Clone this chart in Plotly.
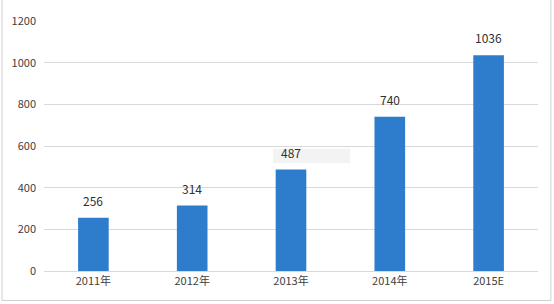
import plotly.graph_objects as go

categories = ["2011年", "2012年", "2013年", "2014年", "2015E"]
values = [256, 314, 487, 740, 1036]
y_ticks = [0, 200, 400, 600, 800, 1000, 1200]

fig = go.Figure()
fig.add_trace(go.Bar(
    x=categories, y=values, width=0.31,
    marker=dict(color="#2E7DCD", line=dict(width=0)),
))

# light grey box behind the 2013 label (as in the source image)
fig.add_shape(type="rect", xref="x", yref="y",
              x0=1.82, x1=2.6, y0=values[2] + 32, y1=values[2] + 100,
              fillcolor="#f3f3f3", line=dict(width=0), layer="below")

for c, v in zip(categories, values):
    fig.add_annotation(x=c, y=v, text=str(v), showarrow=False,
                       yanchor="bottom", yshift=7,
                       font=dict(size=12, color="#303030", family="Noto Sans CJK SC"))

fig.update_layout(
    width=554, height=304,
    margin=dict(l=43, r=16, t=19, b=33),
    paper_bgcolor="white", plot_bgcolor="white",
    showlegend=False,
    font=dict(family="Noto Sans CJK SC", size=11, color="#404040"),
    xaxis=dict(showgrid=False, showline=True, linecolor="#d9d9d9", linewidth=1,
               ticks="", tickfont=dict(size=11, color="#404040")),
    yaxis=dict(range=[0, 1200], tickvals=y_ticks, showgrid=True,
               gridcolor="#d9d9d9", gridwidth=1, zeroline=False, showline=False,
               ticks="", ticklabelstandoff=7,
               tickfont=dict(size=11, color="#404040")),
    shapes=list(fig.layout.shapes) + [
        dict(type="rect", xref="paper", yref="paper",
             x0=-0.085, x1=1.026, y0=-0.118, y1=1.2,
             line=dict(color="#d0d0d0", width=1), fillcolor="rgba(0,0,0,0)",
             layer="below"),
    ],
)

fig.write_html("out.html")
